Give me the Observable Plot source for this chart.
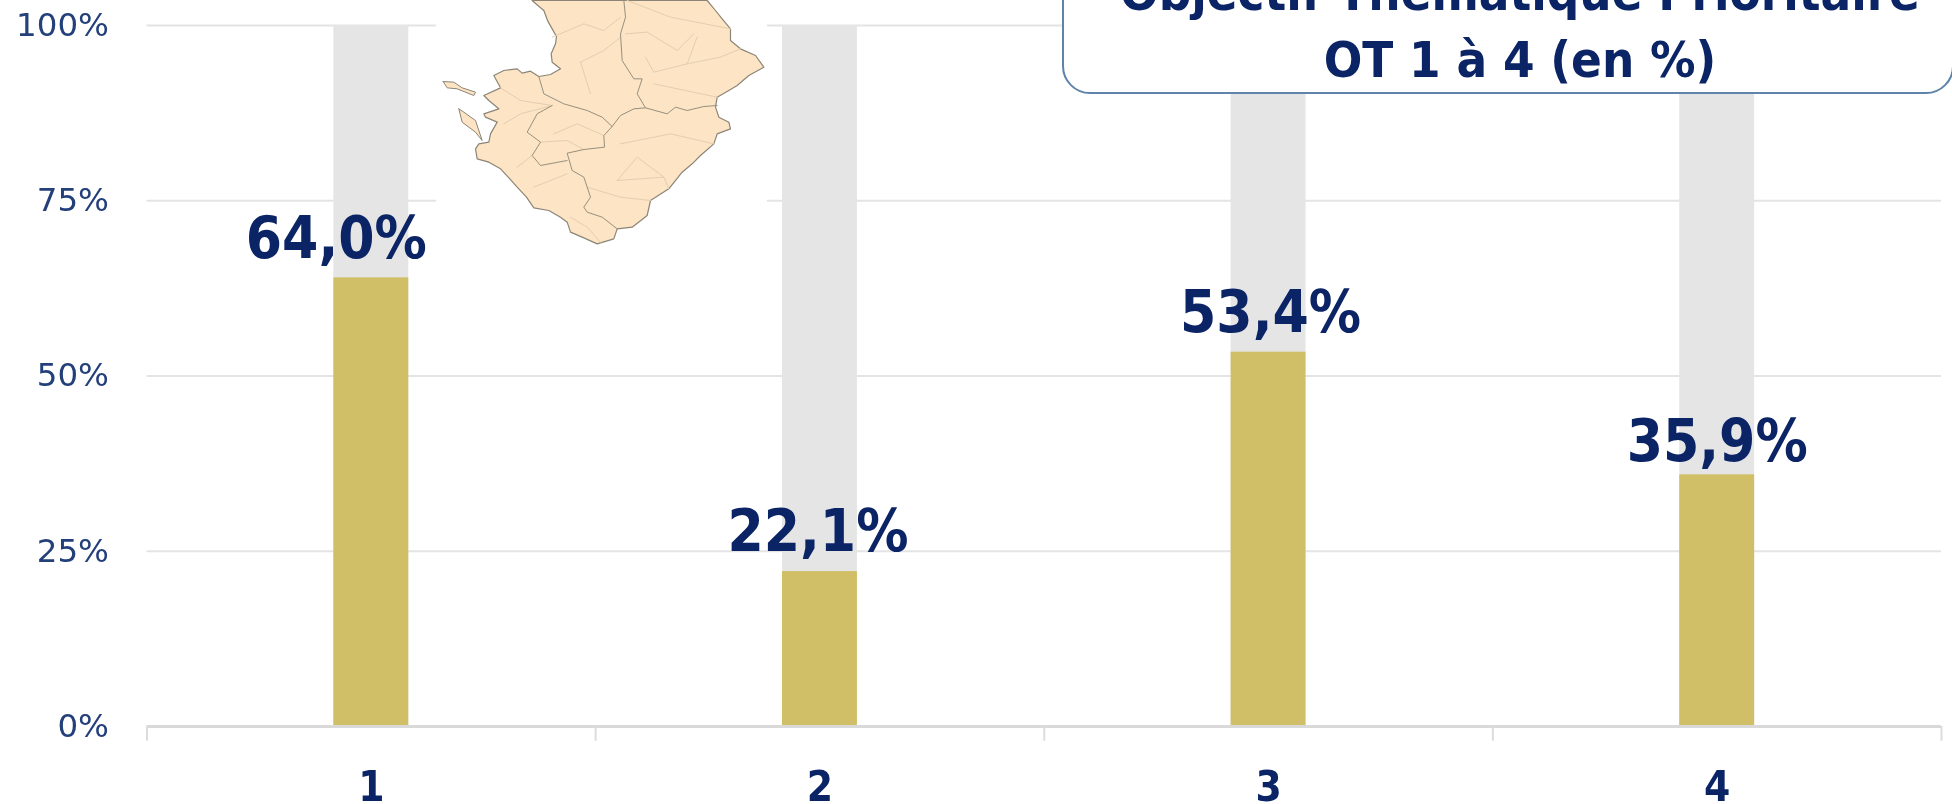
<!DOCTYPE html>
<html lang="fr">
<head>
<meta charset="utf-8">
<script src="https://cdn.jsdelivr.net/npm/d3@7"></script>
<script src="https://cdn.jsdelivr.net/npm/@observablehq/plot@0.6"></script>
<style>
html,body{margin:0;padding:0;background:#fff;overflow:hidden;width:1952px;height:804px}
#stage{position:relative;width:1952px;height:804px;overflow:hidden}
#stage svg{display:block}
#chart text[font-weight="bold"], #chart g[font-weight="bold"] text{font-stretch:condensed}
#chart{filter:blur(.4px)}
#map{position:absolute;left:436px;top:0;background:#fff;filter:blur(.6px)}
#title{position:absolute;left:1062px;top:-70px;width:892px;height:164px;box-sizing:border-box;background:#fff;border:2px solid #5f83ab;border-radius:28px;color:#0b2465;font:bold 50.5px/67px "DejaVu Sans";font-stretch:condensed;text-align:center;padding:27px 0 0 24px;white-space:nowrap}
</style>
</head>
<body>
<div id="stage">
  <div id="chart"></div>
  <div id="map"></div>
  <div id="title">Objectif Thématique Prioritaire<br>OT 1 à 4 (en %)</div>
</div>
<script>
const categories = ["1", "2", "3", "4"];
const values = [64.0, 22.1, 53.4, 35.9];
const yTicks = [0, 25, 50, 75, 100];
const total = 100;

const navy = "#0b2465";
const rows = categories.map((c, i) => ({c, v: values[i]}));
const fr = v => v.toFixed(1).replace(".", ",") + "%";
const label = (row, dx, dy) => Plot.text([row], {x: "c", y: "v", text: d => fr(d.v), dx, dy, fontSize: 58, fontWeight: "bold", fill: navy});

const chart = Plot.plot({
  width: 1952, height: 804,
  marginLeft: 146.5, marginRight: 11, marginTop: 25, marginBottom: 78,
  style: {background: "transparent", fontFamily: "DejaVu Sans"},
  x: {type: "band", domain: categories, paddingInner: 0.833, paddingOuter: 0.4165, round: false, label: null},
  y: {domain: [0, total], label: null},
  marks: [
    Plot.ruleY(yTicks.filter(t => t > 0), {stroke: "#e4e4e4", strokeWidth: 2}),
    Plot.barY(rows, {x: "c", y: () => total, fill: "#e5e5e5"}),
    Plot.barY(rows, {x: "c", y: "v", fill: "#d1bf67"}),
    Plot.ruleY([0], {stroke: "#d9d9d9", strokeWidth: 3}),
    Plot.ruleX(categories, {x: d => d, dx: -224.3, y1: 0, y2: -2.1, stroke: "#dcdcdc", strokeWidth: 2}),
    Plot.ruleX(categories.slice(-1), {x: d => d, dx: 224.3, y1: 0, y2: -2.1, stroke: "#dcdcdc", strokeWidth: 2}),
    Plot.axisY({ticks: yTicks, tickSize: 0, tickPadding: 38, tickFormat: d => d + "%", fontSize: 32.5, fill: "#24407a"}),
    Plot.axisX({tickSize: 0, tickPadding: 45, fontSize: 42, fontWeight: "bold", fill: navy}),
    label(rows[0], -35, -38),
    label(rows[1], -2, -39),
    label(rows[2], 2, -39),
    label(rows[3], 0, -32)
  ]
});
document.getElementById("chart").append(chart);

// Carte décorative (unités de la carte)
const mainland = [[335,0],[352,15],[370,30],[382,62],[395,85],[408,108],[405,130],[392,160],[395,185],[420,205],[390,222],[355,228],[330,212],[305,218],[290,205],[250,210],[220,225],[240,262],[190,285],[205,300],[235,325],[190,340],[195,350],[230,365],[210,400],[205,425],[175,430],[165,445],[170,475],[205,485],[240,505],[268,535],[290,560],[318,590],[340,622],[385,630],[420,650],[440,665],[450,695],[490,712],[530,730],[580,715],[590,685],[635,680],[680,645],[690,600],[745,565],[785,515],[815,490],[840,465],[880,430],[890,400],[930,385],[925,365],[895,350],[885,320],[890,290],[925,270],[950,255],[985,225],[1030,200],[1005,165],[960,145],[930,120],[930,85],[905,55],[885,30],[860,0]];
const oleron = [[115,325],[130,335],[165,360],[185,420],[165,395],[125,365]];
const re = [[68,243],[100,245],[125,262],[165,275],[160,285],[110,265],[80,262]];
const borderA = [[355,228],[370,280],[430,310],[500,330],[545,350],[575,378],[600,345],[640,325],[675,322],[740,340],[765,320],[800,330],[850,318],[890,315]];
const borderB = [[610,0],[615,50],[600,100],[605,180],[640,235],[665,235],[650,280],[675,322]];
const borderC = [[575,378],[550,405],[552,440],[490,447],[440,458],[455,510],[490,530],[510,590],[490,620],[500,635],[545,650],[590,685]];
const borderD = [[395,315],[350,340],[320,395],[360,425],[335,465],[360,495],[440,480]];
const cantons = [
  [[480,185],[510,280]],
  [[480,185],[550,150],[600,110]],
  [[395,110],[490,70],[550,90],[600,50]],
  [[615,100],[680,95],[770,150],[820,100]],
  [[675,170],[700,215],[800,190],[830,110]],
  [[590,540],[650,470],[730,530]],
  [[590,540],[730,530],[745,565]],
  [[250,370],[300,340],[395,315]],
  [[290,500],[335,465]],
  [[340,560],[440,520]],
  [[600,430],[750,400],[880,430]],
  [[700,250],[890,290]],
  [[500,560],[600,590],[690,600]],
  [[240,262],[300,300],[395,315]],
  [[400,400],[470,370],[550,405]],
  [[360,425],[440,420],[490,447]],
  [[620,0],[750,50],[930,85]],
  [[800,190],[900,170],[960,145]],
  [[450,650],[500,680],[540,725]]
];

const ring = (pts, id) => pts.map(([x, y]) => ({x, y, id}));
const mapPlot = Plot.plot({
  width: 331, height: 250, margin: 0,
  style: {background: "transparent"},
  x: {domain: [48, 1041], axis: null},
  y: {domain: [750, 0], axis: null},
  marks: [
    Plot.line([...ring(mainland, "m"), ...ring(mainland.slice(0, 1), "m")], {x: "x", y: "y", z: "id", fill: "#fce4c4", stroke: "#8c8577", strokeWidth: 1.2}),
    Plot.line([...ring(oleron, "o"), ...ring(oleron.slice(0, 1), "o")], {x: "x", y: "y", z: "id", fill: "#fce4c4", stroke: "#8c8577", strokeWidth: 1}),
    Plot.line([...ring(re, "r"), ...ring(re.slice(0, 1), "r")], {x: "x", y: "y", z: "id", fill: "#fce4c4", stroke: "#8c8577", strokeWidth: 1}),
    ...cantons.map(c => Plot.line(c, {x: d => d[0], y: d => d[1], stroke: "#e3ceb0", strokeWidth: 1})),
    ...[borderA, borderB, borderC, borderD].map(b => Plot.line(b, {x: d => d[0], y: d => d[1], stroke: "#97907f", strokeWidth: 1}))
  ]
});
document.getElementById("map").append(mapPlot);
</script>
</body>
</html>
